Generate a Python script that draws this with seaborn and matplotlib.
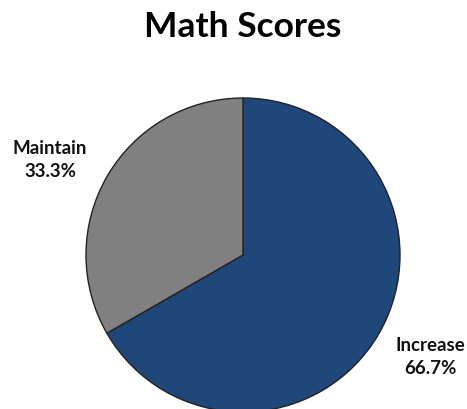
import matplotlib
matplotlib.use("Agg")
import matplotlib.pyplot as plt
import seaborn as sns

categories = ["Increase", "Maintain"]
values = [66.7, 33.3]
colors = ["#1F4779", "#808080"]

sns.set_theme(style="white")
plt.rcParams["font.family"] = ["Lato", "DejaVu Sans"]

fig = plt.figure(figsize=(4.67, 4.10), dpi=100)
ax = fig.add_axes([(243 - 157) / 467, (410 - 413) / 410, 314 / 467, 314 / 410])
ax.pie(values, colors=colors, startangle=90, counterclock=False,
       wedgeprops=dict(edgecolor="#222222", linewidth=1.0))
ax.set_xlim(-1, 1)
ax.set_ylim(-1, 1)
ax.set_aspect("auto")
for p in ax.patches:
    p.set_clip_on(False)

fig.text(243 / 467, 1 - 27 / 410, "Math Scores", ha="center", va="center",
         fontsize=25.5, fontweight="bold", color="black")

label_pos = {"Maintain": (50, 160), "Increase": (430, 357)}
for cat, val in zip(categories, values):
    x, y = label_pos[cat]
    fig.text(x / 467, 1 - y / 410, f"{cat}\n{val:.1f}%", ha="center", va="center",
             fontsize=13.5, fontweight="bold", color="#111111", linespacing=1.45)

fig.savefig("out.png", dpi=100, facecolor="white")
